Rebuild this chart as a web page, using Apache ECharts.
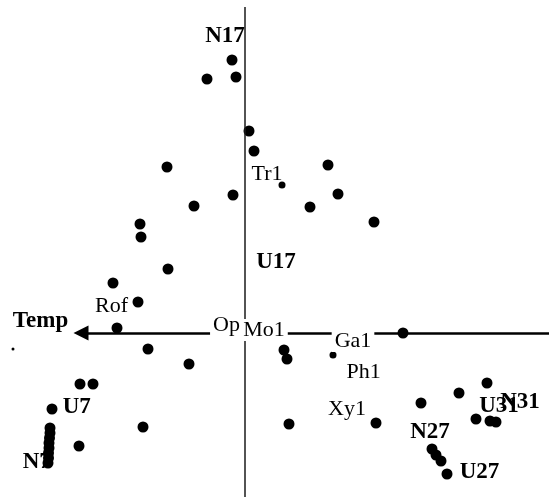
<!DOCTYPE html>
<html>
<head>
<meta charset="utf-8">
<script src="https://cdn.jsdelivr.net/npm/echarts@6/dist/echarts.min.js"></script>
<style>
  html, body { margin: 0; padding: 0; background: #fff; }
  #chart { width: 550px; height: 497px; }
</style>
</head>
<body>
<div id="chart"></div>
<script>
// Ordination scores of the samples (axis 1, axis 2)
const sampleScores = [
  [-0.13, 2.73], [-0.38, 2.54], [-0.09, 2.56], [0.04, 2.02], [0.09, 1.82],
  [-0.78, 1.66], [-0.12, 1.38], [-0.51, 1.27], [-1.05, 1.09], [-1.04, 0.96],
  [0.83, 1.68], [0.93, 1.39], [0.65, 1.26], [1.29, 1.11],
  [-0.77, 0.64], [-1.32, 0.50], [-1.07, 0.31], [-1.28, 0.05], [-0.97, -0.16],
  [-0.56, -0.31], [-1.65, -0.51], [-1.52, -0.51], [-1.93, -0.76], [-1.02, -0.94],
  [-1.66, -1.13],
  [-1.95, -0.95], [-1.95, -1.00], [-1.955, -1.05], [-1.96, -1.10],
  [-1.96, -1.15], [-1.965, -1.20], [-1.965, -1.25], [-1.97, -1.30],
  [0.39, -0.17], [0.42, -0.26], [1.58, 0.00], [0.44, -0.91], [1.31, -0.90],
  [1.76, -0.70], [2.14, -0.60], [2.42, -0.50], [2.31, -0.86], [2.45, -0.88],
  [2.51, -0.89], [1.87, -1.16], [1.91, -1.22], [1.96, -1.28], [2.02, -1.41]
];
const strayScores = [[-2.32, -0.16]];

// Species scores shown with a marker
const markedSpecies = [[0.37, 1.48], [0.88, -0.22]];

// Sample group labels
const groupNames = ['N17', 'U17', 'U7', 'N7', 'N27', 'U31', 'N31', 'U27'];
const groupX = [-0.20, 0.31, -1.683, -2.083, 1.85, 2.54, 2.75, 2.345];
const groupY = [2.97, 0.71, -0.745, -1.287, -0.995, -0.73, -0.695, -1.39];

// Species labels
const speciesNames = ['Tr1', 'Rof', 'Op', 'Mo1', 'Ga1', 'Ph1', 'Xy1'];
const speciesX = [0.22, -1.335, -0.185, 0.19, 1.08, 1.187, 1.02];
const speciesY = [1.59, 0.27, 0.08, 0.03, -0.08, -0.395, -0.76];
const maskedSpecies = ['Op', 'Mo1', 'Ga1'];

// Environmental vector
const envName = 'Temp';
const envArrow = { from: [3.04, 0], to: [-1.64, 0] };
const envLabel = [-2.045, 0.12];

// Second ordination axis
const axisTwo = { from: [0, 3.26], to: [0, -1.64] };

const serif = 'Liberation Serif';
const solid = { color: '#000', opacity: 1 };
const hidden = { color: 'rgba(0,0,0,0)', opacity: 1 };

const chart = echarts.init(document.getElementById('chart'), null, { renderer: 'canvas' });

chart.setOption({
  animation: false,
  backgroundColor: '#ffffff',
  grid: { left: 0, right: 0, top: 0, bottom: 0 },
  xAxis: { type: 'value', min: -2.45, max: 3.05, show: false },
  yAxis: { type: 'value', min: -1.64, max: 3.33, show: false },
  series: [
    {
      name: 'axis2',
      type: 'scatter',
      z: 1,
      data: [],
      markLine: {
        silent: true,
        animation: false,
        symbol: ['none', 'none'],
        label: { show: false },
        data: [[{ coord: axisTwo.from }, { coord: axisTwo.to }]],
        lineStyle: { color: '#1a1a1a', width: 1.5, type: 'solid', opacity: 1 }
      }
    },
    {
      name: 'temperature',
      type: 'scatter',
      z: 1,
      data: [],
      markLine: {
        silent: true,
        animation: false,
        label: { show: false },
        data: [
          [
            { coord: envArrow.from, symbol: 'none' },
            { coord: envArrow.to, symbol: 'triangle', symbolSize: 15 }
          ]
        ],
        itemStyle: solid,
        lineStyle: { color: '#000', width: 2.5, type: 'solid', opacity: 1 }
      }
    },
    {
      name: 'samples',
      type: 'scatter',
      z: 3,
      symbol: 'circle',
      symbolSize: 11,
      itemStyle: solid,
      data: sampleScores
    },
    {
      name: 'stray',
      type: 'scatter',
      z: 3,
      symbolSize: 3,
      itemStyle: solid,
      data: strayScores
    },
    {
      name: 'species markers',
      type: 'scatter',
      z: 3,
      symbolSize: 7,
      itemStyle: solid,
      data: markedSpecies
    },
    {
      name: 'species labels',
      type: 'scatter',
      z: 5,
      symbolSize: 1,
      itemStyle: hidden,
      data: speciesNames.map((n, i) => ({
        name: n,
        value: [speciesX[i], speciesY[i]],
        label: maskedSpecies.includes(n)
          ? { backgroundColor: '#fff', padding: [0, 3] }
          : {}
      })),
      label: {
        show: true,
        position: 'inside',
        formatter: p => p.name,
        fontFamily: serif,
        fontSize: 22,
        color: '#000',
        opacity: 1
      }
    },
    {
      name: 'group labels',
      type: 'scatter',
      z: 6,
      symbolSize: 1,
      itemStyle: hidden,
      data: groupNames.map((n, i) => ({ name: n, value: [groupX[i], groupY[i]] }))
        .concat([{ name: envName, value: envLabel }]),
      label: {
        show: true,
        position: 'inside',
        formatter: p => p.name,
        fontFamily: serif,
        fontWeight: 'bold',
        fontSize: 23,
        color: '#000',
        opacity: 1
      }
    }
  ]
});
</script>
</body>
</html>
